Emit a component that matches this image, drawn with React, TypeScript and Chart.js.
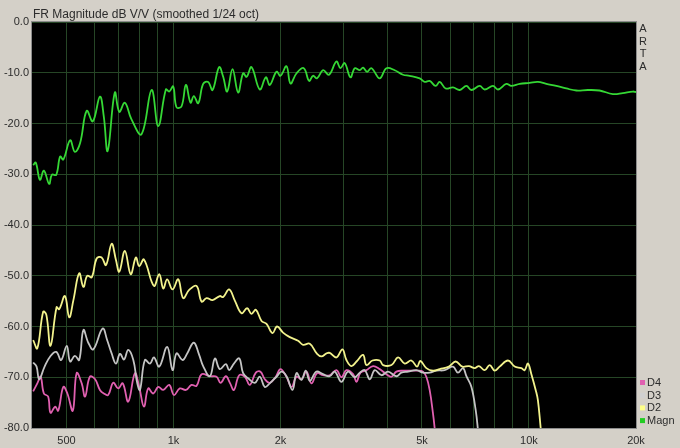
import React, { useEffect, useRef } from "react";
import { Chart, registerables } from "chart.js";

Chart.register(...registerables);

// ---- data (frequency in Hz, level in dB V/V) ----
const magnFreq = [403,410,421,432,447,455,468,480,490,512,528,546,570,593,621,637,653,684,704,730,762,813,868,906,952,973,998,1020,1054,1084,1117,1141,1174,1212,1252,1288,1344,1380,1416,1466,1520,1570,1606,1658,1749,1819,1866,1949,2000,2079,2134,2219,2326,2407,2469,2535,2635,2739,2873,2948,3031,3146,3236,3343,3414,3505,3606,3803,3972,4191,4423,4617,4927,5087,5255,5463,5608,5830,6112,6384,6668,6888,7267,7507,7920,8182,8636,8921,9414,10040,10594,11187,11933,12735,13585,14636,15787,17217,18366,19590,20000];
const magnDb = [-28.2,-27.7,-31.1,-29.3,-31.9,-30.1,-30.1,-26.5,-27.1,-23.3,-25.6,-23.9,-17.5,-19.6,-14.7,-18.7,-25.4,-13.9,-17.7,-15.9,-19.2,-22.1,-13.4,-20.5,-13.3,-13.7,-12.7,-16.8,-16.6,-12.4,-15.9,-14.6,-16.0,-12.2,-11.8,-13.4,-8.9,-10.8,-13.7,-9.3,-13.9,-10.1,-10.8,-8.9,-13.3,-10.9,-12.4,-9.8,-10.6,-8.7,-12.1,-10.1,-9.1,-11.6,-10.6,-11.1,-9.5,-10.4,-7.8,-9.1,-8.1,-10.9,-9.1,-9.5,-9.0,-9.8,-9.1,-11.1,-9.1,-9.5,-10.4,-10.6,-11.1,-11.8,-11.6,-12.6,-11.8,-13.1,-12.9,-13.4,-12.6,-13.4,-12.6,-13.3,-12.6,-13.3,-12.2,-12.6,-12.2,-12.0,-11.8,-12.2,-12.6,-13.1,-13.5,-13.4,-13.5,-14.2,-14.0,-13.7,-13.8];

const d2Freq = [403,414,430,439,451,469,477,495,509,523,543,558,572,589,608,628,646,670,689,704,730,758,784,801,826,881,912,936,960,994,1031,1065,1107,1161,1200,1239,1288,1350,1380,1434,1488,1554,1611,1658,1705,1769,1827,1899,1956,2033,2124,2241,2315,2418,2535,2608,2694,2751,2873,2987,3065,3166,3272,3414,3490,3628,3803,3886,4105,4282,4473,4669,4843,4948,5144,5370,5608,5953,6219,6494,6779,7033,7232,7507,7752,8007,8270,8726,9115,9516,9723,9934,10157,10442,10594,10787,10930];
const d2Db = [-62.7,-64.3,-57.1,-57.7,-63.8,-56.2,-56.6,-54.0,-58.2,-54.8,-49.5,-52.2,-50.0,-50.3,-46.6,-46.4,-47.9,-43.7,-46.9,-49.2,-45.1,-49.7,-46.4,-48.1,-46.8,-52.0,-49.7,-52.5,-50.7,-52.7,-50.7,-54.4,-52.8,-52.0,-55.1,-54.4,-54.8,-54.0,-54.2,-52.7,-54.9,-57.4,-56.4,-57.5,-56.7,-58.9,-59.5,-61.3,-60.0,-61.2,-62.1,-62.8,-63.6,-63.4,-65.4,-65.9,-65.3,-65.2,-66.1,-64.5,-66.6,-67.8,-66.9,-65.6,-67.6,-66.7,-66.7,-67.6,-67.6,-66.1,-67.3,-66.7,-67.9,-66.8,-68.2,-68.7,-68.4,-67.9,-66.9,-67.9,-67.8,-68.2,-67.8,-68.6,-67.6,-68.7,-67.9,-66.7,-67.9,-68.2,-68.6,-67.3,-69.4,-72.5,-74.5,-80.0,-84];

const d3Freq = [403,412,419,434,451,468,483,501,512,528,543,558,576,595,632,651,670,689,707,726,746,771,791,805,831,859,881,912,960,994,1020,1061,1093,1141,1181,1212,1266,1308,1350,1404,1434,1479,1531,1570,1622,1694,1749,1807,1866,1949,2013,2079,2162,2219,2291,2355,2418,2524,2635,2751,2842,2968,3096,3236,3343,3452,3566,3684,3846,4013,4237,4377,4570,4822,5034,5255,5489,5791,6112,6312,6521,6668,6888,7082,7187,7267];
const d3Db = [-67.1,-67.9,-70.4,-67.9,-65.8,-65.0,-66.6,-63.8,-66.9,-65.8,-66.6,-60.7,-63.2,-64.5,-60.4,-62.7,-65.3,-67.3,-65.4,-66.5,-64.6,-66.6,-71.2,-72.5,-66.6,-67.3,-66.1,-67.9,-64.0,-68.6,-65.3,-66.6,-65.3,-63.2,-65.6,-67.8,-69.8,-66.3,-68.4,-67.4,-68.6,-67.3,-66.3,-69.2,-70.2,-71.1,-69.9,-71.9,-71.2,-69.9,-68.9,-69.8,-72.5,-69.2,-70.5,-68.7,-70.7,-68.9,-69.4,-69.8,-68.9,-70.9,-68.9,-70.0,-69.1,-68.6,-70.4,-68.6,-69.6,-68.9,-69.8,-69.1,-68.9,-68.6,-69.1,-69.1,-68.7,-68.6,-67.9,-69.1,-68.2,-69.8,-71.9,-76.5,-80.4,-84];

const d4Freq = [403,414,423,432,444,451,465,474,490,503,521,534,552,564,582,602,621,637,655,677,699,720,746,779,801,826,849,877,906,936,973,1003,1042,1084,1124,1161,1200,1266,1322,1357,1404,1441,1479,1531,1588,1640,1705,1757,1807,1866,1940,2000,2079,2148,2219,2291,2366,2445,2535,2635,2751,2873,2968,3065,3200,3272,3357,3490,3644,3803,3972,4105,4237,4423,4617,4874,5034,5144,5255,5370,5430,5490];
const d4Db = [-72.8,-71.2,-69.9,-73.2,-73.8,-77.0,-75.8,-76.6,-71.9,-73.2,-76.6,-69.2,-71.2,-73.8,-69.9,-70.4,-72.5,-73.2,-73.5,-71.1,-72.2,-71.2,-74.8,-69.2,-71.9,-75.8,-72.2,-73.2,-71.9,-72.5,-71.5,-73.5,-72.2,-72.5,-71.5,-71.7,-69.4,-69.8,-69.9,-71.1,-69.8,-71.1,-72.5,-69.6,-69.9,-71.5,-69.1,-68.9,-70.4,-71.1,-69.9,-68.4,-69.9,-71.9,-69.9,-70.4,-68.9,-71.2,-69.2,-69.6,-69.6,-68.6,-70.0,-68.6,-69.4,-70.9,-69.1,-68.6,-67.8,-68.4,-69.4,-69.9,-68.9,-68.7,-68.7,-68.7,-68.9,-69.9,-72.5,-77.1,-80.1,-84];

const seriesNames = ["Magn", "D2", "D3", "D4"];
const seriesColors = ["#35d835", "#f2f28c", "#c4c4c4", "#e060b0"];
const legendMarkerColors = ["#22cc22", "#ffff88", "#d0d0d0", "#e060b0"];

const xTickValues = [500, 600, 700, 800, 900, 1000, 2000, 3000, 4000, 5000, 6000, 7000, 8000, 9000, 10000, 20000];
const xTickLabels: Record<number, string> = { 500: "500", 1000: "1k", 2000: "2k", 5000: "5k", 10000: "10k", 20000: "20k" };
const yTickValues = [0, -10, -20, -30, -40, -50, -60, -70, -80];

const titleText = "FR Magnitude dB V/V (smoothed 1/24 oct)";
const sideText = ["A", "R", "T", "A"];

const FONT = "'Liberation Sans', Arial, sans-serif";
const TEXT_COLOR = "#2c2c2c";
const GRID_COLOR = "#264626";
const BG = "#d4d0c8";

function zip(f: number[], d: number[]) {
  const n = Math.min(f.length, d.length);
  const out: { x: number; y: number }[] = [];
  for (let i = 0; i < n; i++) out.push({ x: f[i], y: d[i] });
  return out;
}

const artaPlugin = {
  id: "artaDecor",
  beforeDraw(chart: any) {
    const { ctx, chartArea: a, width, height } = chart;
    ctx.save();
    ctx.fillStyle = BG;
    ctx.fillRect(0, 0, width, height);
    ctx.fillStyle = "#000";
    ctx.fillRect(a.left, a.top, a.right - a.left, a.bottom - a.top);
    ctx.restore();
  },
  afterDraw(chart: any) {
    const { ctx, chartArea: a } = chart;
    ctx.save();
    // plot frame
    ctx.strokeStyle = "#8c8c8c";
    ctx.lineWidth = 1;
    ctx.strokeRect(a.left - 0.5, a.top - 0.5, a.right - a.left + 1, a.bottom - a.top + 1);
    // title
    ctx.fillStyle = TEXT_COLOR;
    ctx.font = `12px ${FONT}`;
    ctx.textAlign = "left";
    ctx.textBaseline = "alphabetic";
    ctx.fillText(titleText, a.left + 1, 18);
    // vertical ARTA
    ctx.font = `11px ${FONT}`;
    ctx.textAlign = "center";
    ctx.textBaseline = "middle";
    sideText.forEach((ch, i) => ctx.fillText(ch, a.right + 7, a.top + 7 + i * 12.7));
    // legend (reverse dataset order)
    ctx.font = `11px ${FONT}`;
    ctx.textAlign = "left";
    const ds = chart.data.datasets;
    const order = [3, 2, 1, 0];
    order.forEach((di, i) => {
      const yc = a.bottom - 45.5 + i * 12.7;
      ctx.fillStyle = legendMarkerColors[di];
      ctx.fillRect(a.right + 4, yc - 2.5, 5, 5);
      ctx.fillStyle = TEXT_COLOR;
      ctx.fillText(ds[di].label, a.right + 11, yc + 0.5);
    });
    ctx.restore();
  },
};

export default function App() {
  const ref = useRef<HTMLCanvasElement | null>(null);
  useEffect(() => {
    if (!ref.current) return;
    const series = [zip(magnFreq, magnDb), zip(d2Freq, d2Db), zip(d3Freq, d3Db), zip(d4Freq, d4Db)];
    const chart = new Chart(ref.current, {
      type: "line",
      data: {
        datasets: series.map((data, i) => ({
          label: seriesNames[i],
          data,
          borderColor: seriesColors[i],
          backgroundColor: seriesColors[i],
          borderWidth: 1.8,
          pointRadius: 0,
          tension: 0.4,
          fill: false,
        })),
      },
      options: {
        animation: false,
        responsive: false,
        devicePixelRatio: 1,
        layout: { padding: { left: 0, top: 22, right: 44, bottom: 0 } },
        plugins: { legend: { display: false }, title: { display: false }, tooltip: { enabled: false } },
        scales: {
          x: {
            type: "logarithmic",
            min: 400,
            max: 20000,
            border: { display: false },
            grid: { color: GRID_COLOR, lineWidth: 1, drawTicks: false },
            afterBuildTicks: (s: any) => {
              s.ticks = xTickValues.map((v) => ({ value: v }));
            },
            afterFit: (s: any) => {
              s.height = 20;
              s.paddingLeft = 0;
              s.paddingRight = 0;
            },
            ticks: {
              autoSkip: false,
              maxRotation: 0,
              minRotation: 0,
              padding: 6,
              color: TEXT_COLOR,
              font: { family: FONT, size: 11 },
              callback: (v: any) => xTickLabels[Number(v)] ?? "",
            },
          },
          y: {
            type: "linear",
            min: -80,
            max: 0,
            border: { display: false },
            grid: { color: GRID_COLOR, lineWidth: 1, drawTicks: false },
            afterBuildTicks: (s: any) => {
              s.ticks = yTickValues.map((v) => ({ value: v }));
            },
            afterFit: (s: any) => {
              s.width = 32;
              s.paddingTop = 0;
              s.paddingBottom = 0;
            },
            ticks: {
              padding: 3,
              color: TEXT_COLOR,
              font: { family: FONT, size: 11 },
              callback: (v: any) => Number(v).toFixed(1),
            },
          },
        },
      },
      plugins: [artaPlugin],
    });
    return () => chart.destroy();
  }, []);
  return (
    <div style={{ position: "absolute", left: 0, top: 0, width: 680, height: 448, background: BG }}>
      <canvas ref={ref} width={680} height={448} style={{ display: "block" }} />
    </div>
  );
}
